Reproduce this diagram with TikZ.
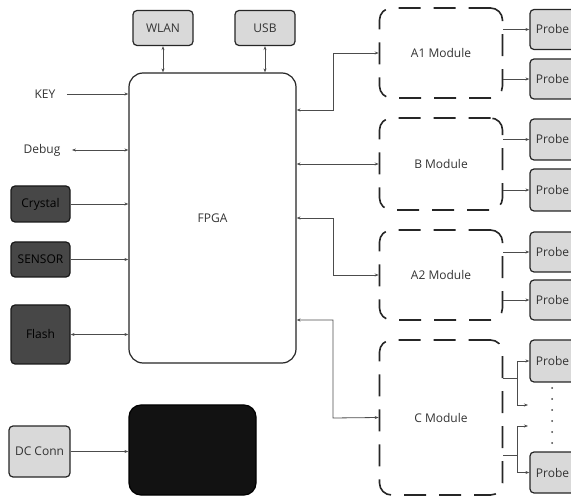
\documentclass[tikz,border=0pt]{standalone}
\usepackage{fontspec}
\setmainfont{Open Sans}
\usetikzlibrary{arrows.meta}
\begin{document}
\begin{tikzpicture}[x=1pt,y=-1pt,
  every node/.style={font=\fontsize{12}{14}\selectfont, text=black!80},
  lightbox/.style={draw=black!85, line width=1.2pt, fill=black!15, rounded corners=4pt},
  darkbox/.style={draw=black!90, line width=1.2pt, fill=black!72, rounded corners=4pt, text=black},
  modbox/.style={draw=black!85, line width=1.6pt, dash pattern=on 22pt off 13pt, rounded corners=12pt, minimum width=123pt},
  probebox/.style={lightbox, minimum width=45pt, minimum height=40pt},
  conn/.style={draw=black!70, line width=0.8pt, -{Stealth[length=4pt,width=3pt]}},
  dconn/.style={draw=black!70, line width=0.8pt, {Stealth[length=4pt,width=3pt]}-{Stealth[length=4pt,width=3pt]}},
]
\useasboundingbox (0,0) rectangle (571,497);
\clip (0,0) rectangle (571,497);

% top boxes
\node[lightbox, minimum width=60pt, minimum height=35pt] (wlan) at (163,28) {WLAN};
\node[lightbox, minimum width=60pt, minimum height=35pt] (usb) at (265,28) {USB};

% FPGA
\node[draw=black!85, line width=1.2pt, rounded corners=14pt, minimum width=167pt, minimum height=290pt, fill=white] (fpga) at (212.5,218) {FPGA};

\draw[dconn] (wlan.south) -- (wlan.south |- fpga.north);
\draw[dconn] (usb.south) -- (usb.south |- fpga.north);

% left side
\node (key) at (45,94) {KEY};
\node (debug) at (42,150) {Debug};
\node[darkbox, minimum width=59pt, minimum height=36pt] (crystal) at (40.5,204) {Crystal};
\node[darkbox, minimum width=59pt, minimum height=35pt] (sensor) at (40.5,259.5) {SENSOR};
\node[darkbox, minimum width=59pt, minimum height=59pt] (flash) at (40.5,334.5) {Flash};
\node[lightbox, minimum width=61pt, minimum height=51pt] (dc) at (39.5,451.5) {DC Conn};
\node[draw=black, line width=1.2pt, fill=black!93, rounded corners=12pt, minimum width=127pt, minimum height=90pt] (black) at (192.5,450) {};

\draw[conn] ([xshift=8pt]key.east) -- (fpga.west |- key.east);
\draw[dconn] ([xshift=8pt]debug.east) -- (fpga.west |- debug.east);
\draw[conn] (crystal.east) -- (fpga.west |- crystal.east);
\draw[conn] (sensor.east) -- (fpga.west |- sensor.east);
\draw[dconn] (flash.east) -- (fpga.west |- flash.east);
\draw[conn] (dc.east) -- (black.west |- dc.east);

% modules
\node[modbox, minimum height=90pt] (a1) at (441,53) {A1 Module};
\node[modbox, minimum height=92pt] (b) at (441,164) {B Module};
\node[modbox, minimum height=90pt] (a2) at (441,275) {A2 Module};
\node[modbox, minimum height=155pt] (c) at (441,417.5) {C Module};

\draw[dconn] (fpga.east |- 0,110) -| (333,53) -- (a1.west);
\draw[dconn] (fpga.east |- b.west) -- (b.west);
\draw[dconn] (fpga.east |- 0,218) -| (333,275) -- (a2.west);
\draw[dconn] (fpga.east |- 0,320) -| (333,418) -- (c.west);

% probes
\node[probebox] (p1) at (552.5,29.5) {Probe};
\node[probebox] (p2) at (552.5,79) {Probe};
\node[probebox, minimum height=41pt] (p3) at (552.5,139.5) {Probe};
\node[probebox, minimum height=42pt] (p4) at (552.5,190) {Probe};
\node[probebox] (p5) at (552.5,252) {Probe};
\node[probebox] (p6) at (552.5,300) {Probe};
\node[probebox, minimum height=42pt] (p7) at (552.5,361) {Probe};
\node[probebox, minimum height=41pt] (p8) at (552.5,472.5) {Probe};

\draw[conn] (a1.east |- p1.west) -- (p1.west);
\draw[conn] (a1.east |- p2.west) -- (p2.west);
\draw[conn] (b.east |- p3.west) -- (p3.west);
\draw[conn] (b.east |- p4.west) -- (p4.west);
\draw[conn] (a2.east |- p5.west) -- (p5.west);
\draw[conn] (a2.east |- p6.west) -- (p6.west);

\coordinate (cu) at (517,378);
\coordinate (cl) at (517,455);
\coordinate (e1) at (528,405);
\coordinate (e2) at (528,426);
\draw[draw=black!70, line width=0.8pt] (c.east |- cu) -- (cu);
\draw[draw=black!70, line width=0.8pt] (c.east |- cl) -- (cl);
\draw[conn] (cu) |- (p7.west);
\draw[conn] (cu) |- (e1);
\draw[conn] (cl) |- (e2);
\draw[conn] (cl) |- (p8.west);

\foreach \yy in {388,399,410,421,432,443}
  \fill[black!75] (552,\yy) circle (1pt);
\end{tikzpicture}
\end{document}
